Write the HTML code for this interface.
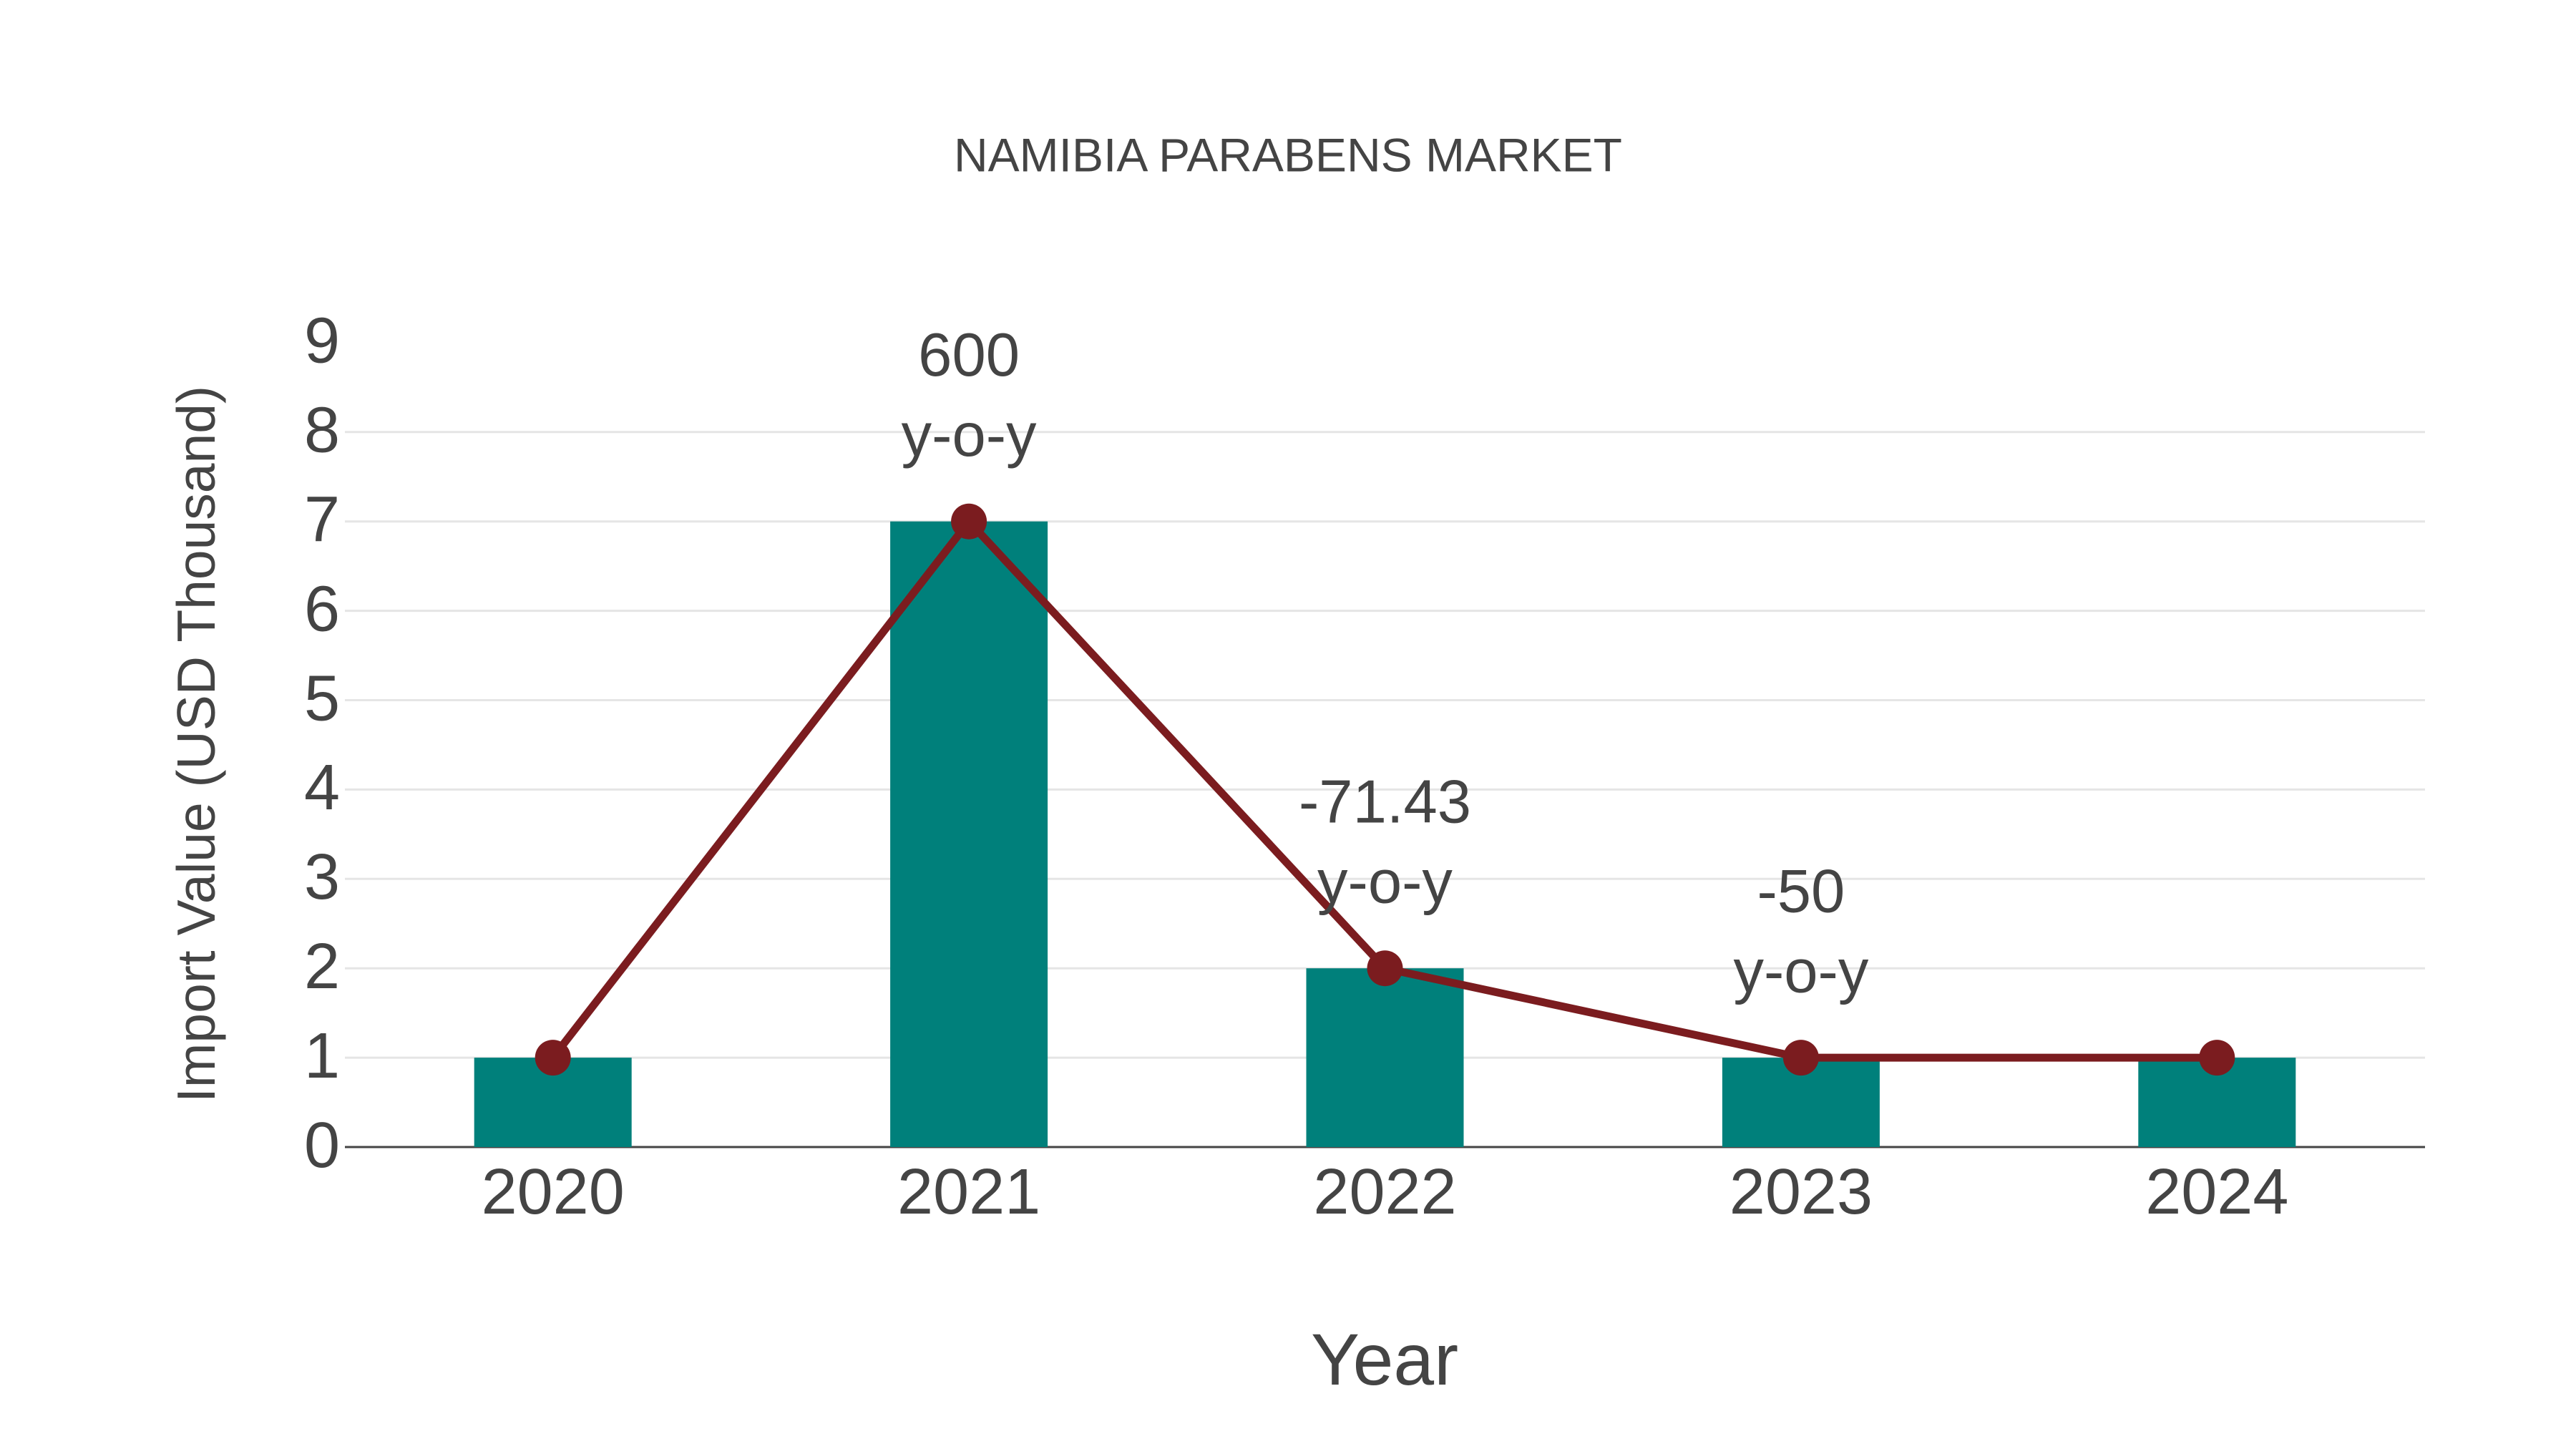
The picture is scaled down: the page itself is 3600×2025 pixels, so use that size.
<!DOCTYPE html>
<html><head><meta charset="utf-8"><style>
html,body{margin:0;padding:0;background:#fff;}
svg{display:block;font-family:"Liberation Sans",Arial,sans-serif;}
</style></head><body>
<svg id="chart" width="3600" height="2025" viewBox="0 0 3600 2025" xmlns="http://www.w3.org/2000/svg">
<rect width="3600" height="2025" fill="#fff"/>
<text x="1800" y="222" font-size="66" fill="#444" text-anchor="middle" dominant-baseline="middle">NAMIBIA PARABENS MARKET</text>
<g id="grid"></g>
<g id="bars"></g>
<g id="line"></g>
<g id="labels"></g>
<text transform="translate(280,1040) rotate(-90)" font-size="75" fill="#444" text-anchor="middle" dominant-baseline="middle">Import Value (USD Thousand)</text>
<text x="1935" y="1908" font-size="102" fill="#444" text-anchor="middle" dominant-baseline="middle">Year</text>
</svg>
<script>
const categories = ["2020","2021","2022","2023","2024"];
const values = [1,7,2,1,1];
const yoyLabels = ["","600","-71.43","-50",""];
const yTicks = [0,1,2,3,4,5,6,7,8,9];

const NS="http://www.w3.org/2000/svg";
const L=482,R=3389,Y0=1603,UNIT=124.9;
const band=(R-L)/categories.length;
const xs=i=>L+band*(i+0.5);
const ys=v=>Y0-v*UNIT;
function mk(t,a,p){const e=document.createElementNS(NS,t);for(const k in a)e.setAttribute(k,a[k]);p.appendChild(e);return e;}
const grid=document.getElementById('grid');
yTicks.forEach(v=>{
  if(v>0&&v<9){const g=mk('line',{x1:L,x2:R,y1:ys(v),y2:ys(v),stroke:'#e5e5e5','stroke-width':3},grid);
  
  }
  const t=mk('text',{x:475,y:ys(v)+4,'font-size':90,fill:'#444','text-anchor':'end','dominant-baseline':'middle'},grid);
  t.textContent=v;
  
  
});
const ax=mk('line',{x1:L,x2:R,y1:Y0,y2:Y0,stroke:'#444','stroke-width':3},grid);


const bars=document.getElementById('bars');
categories.forEach((c,i)=>{
  const b=mk('rect',{x:xs(i)-110,y:ys(values[i]),width:220,height:values[i]*UNIT,fill:'#00807b'},bars);
  
  
  const t=mk('text',{x:xs(i),y:1672,'font-size':90,fill:'#444','text-anchor':'middle','dominant-baseline':'middle'},bars);
  t.textContent=c;
  
  
});
const lg=document.getElementById('line');
const pl=mk('polyline',{points:values.map((v,i)=>xs(i)+','+ys(v)).join(' '),fill:'none',stroke:'#7b1c1f','stroke-width':11,'stroke-linejoin':'round'},lg);


values.forEach((v,i)=>{
  const c=mk('circle',{cx:xs(i),cy:ys(v),r:25,fill:'#7b1c1f'},lg);
  
  
});
const lb=document.getElementById('labels');
yoyLabels.forEach((s,i)=>{
  if(!s)return;
  const a=mk('text',{x:xs(i),y:ys(values[i])-226,'font-size':85,fill:'#444','text-anchor':'middle','dominant-baseline':'middle'},lb);
  a.textContent=s;
  
  
  const b=mk('text',{x:xs(i),y:ys(values[i])-114,'font-size':85,fill:'#444','text-anchor':'middle','dominant-baseline':'middle'},lb);
  b.textContent='y-o-y';
  
  
});
</script>
</body></html>
